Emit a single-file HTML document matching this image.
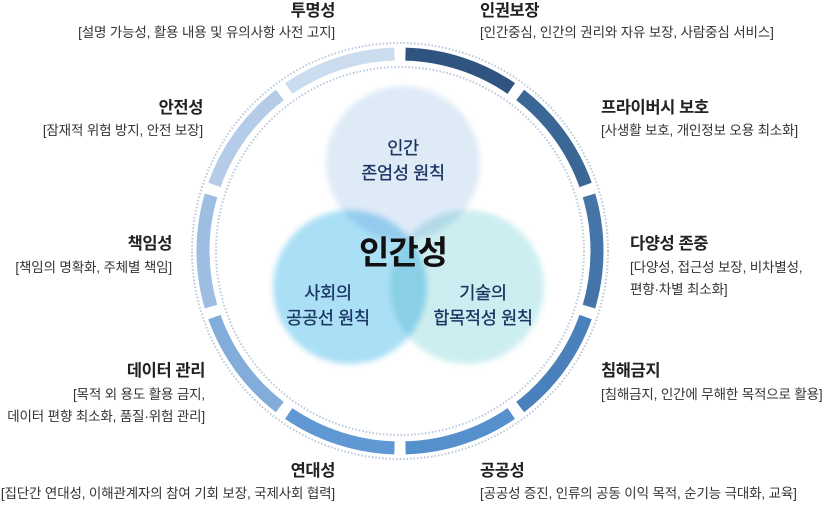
<!DOCTYPE html>
<html><head><meta charset="utf-8"><style>
body{margin:0;width:825px;height:504px;background:#fff;position:relative;overflow:hidden;font-family:"Liberation Sans","Noto Sans CJK KR",sans-serif;color:#222}
.t{position:absolute;font-weight:bold;font-size:16.5px;letter-spacing:-0.4px;white-space:nowrap;line-height:18px}
.d{position:absolute;font-size:13.5px;letter-spacing:-0.15px;white-space:nowrap;line-height:22px;color:#333}
.r{text-align:right}
.c{position:absolute;border-radius:50%;filter:blur(3px)}
.lab{position:absolute;color:#1a3462;font-size:17.5px;text-align:center;line-height:25px;letter-spacing:-0.3px;white-space:nowrap;-webkit-text-stroke:0.3px #1a3462}
</style></head><body>
<svg width="825" height="504" style="position:absolute;left:0;top:0">
<circle cx="400" cy="251" r="208" fill="none" stroke="#b9c9dc" stroke-width="2" stroke-dasharray="1.5 2"/>
<circle cx="400" cy="251" r="184" fill="none" stroke="#b9c9dc" stroke-width="2" stroke-dasharray="1.5 2"/>
<g id="ring" fill="none" stroke-width="13"></g>
</svg>
<div class="c" style="left:326px;top:86px;width:154px;height:154px;background:#dfeaf7"></div>
<div class="c" style="left:273px;top:210px;width:154px;height:154px;background:#aadff6;mix-blend-mode:multiply"></div>
<div class="c" style="left:390px;top:210px;width:154px;height:154px;background:#cdeef0;mix-blend-mode:multiply"></div>
<div class="lab" style="left:348px;top:136px;width:110px">인간<br>존엄성 원칙</div>
<div class="lab" style="left:268px;top:281px;width:120px">사회의<br>공공선 원칙</div>
<div class="lab" style="left:413px;top:281px;width:140px">기술의<br>합목적성 원칙</div>
<div style="position:absolute;left:330px;top:226px;width:146px;text-align:center;font-weight:bold;font-size:33px;color:#111;letter-spacing:-1px">인간성</div>

<div class="t r" style="right:490px;top:2px">투명성</div>
<div class="d r" style="right:490px;top:22px">[설명 가능성, 활용 내용 및 유의사항 사전 고지]</div>
<div class="t" style="left:480px;top:2px">인권보장</div>
<div class="d" style="left:480px;top:22px">[인간중심, 인간의 권리와 자유 보장, 사람중심 서비스]</div>
<div class="t r" style="right:622px;top:99px">안전성</div>
<div class="d r" style="right:622px;top:120px">[잠재적 위험 방지, 안전 보장]</div>
<div class="t" style="left:601px;top:99px">프라이버시 보호</div>
<div class="d" style="left:601px;top:120px">[사생활 보호, 개인정보 오용 최소화]</div>
<div class="t r" style="right:653px;top:235px">책임성</div>
<div class="d r" style="right:653px;top:257px">[책임의 명확화, 주체별 책임]</div>
<div class="t" style="left:630px;top:235px">다양성 존중</div>
<div class="d" style="left:630px;top:257px">[다양성, 접근성 보장, 비차별성,<br>편향·차별 최소화]</div>
<div class="t r" style="right:620px;top:362px">데이터 관리</div>
<div class="d r" style="right:620px;top:384px">[목적 외 용도 활용 금지,<br>데이터 편향 최소화, 품질·위험 관리]</div>
<div class="t" style="left:601px;top:362px">침해금지</div>
<div class="d" style="left:601px;top:384px">[침해금지, 인간에 무해한 목적으로 활용]</div>
<div class="t r" style="right:490px;top:462px">연대성</div>
<div class="d r" style="right:490px;top:483px">[집단간 연대성, 이해관계자의 참여 기회 보장, 국제사회 협력]</div>
<div class="t" style="left:480px;top:462px">공공성</div>
<div class="d" style="left:480px;top:483px">[공공성 증진, 인류의 공동 이익 목적, 순기능 극대화, 교육]</div>
<script>
var cols=["#2f5480","#3b6796","#4574a8","#4a80bb","#5590cc","#5f98d3","#82acd9","#9dbde2","#b5cce9","#cbdcee"];
var g=document.getElementById("ring"),cx=400,cy=251,r=197,s="";
function p(a){a=(a-90)*Math.PI/180;return (cx+r*Math.cos(a)).toFixed(2)+" "+(cy+r*Math.sin(a)).toFixed(2);}
for(var i=0;i<10;i++){var a0=i*36+1.6,a1=(i+1)*36-1.6;
s+='<path d="M'+p(a0)+' A'+r+' '+r+' 0 0 1 '+p(a1)+'" stroke="'+cols[i]+'"/>';}
g.innerHTML=s;
</script>
</body></html>
